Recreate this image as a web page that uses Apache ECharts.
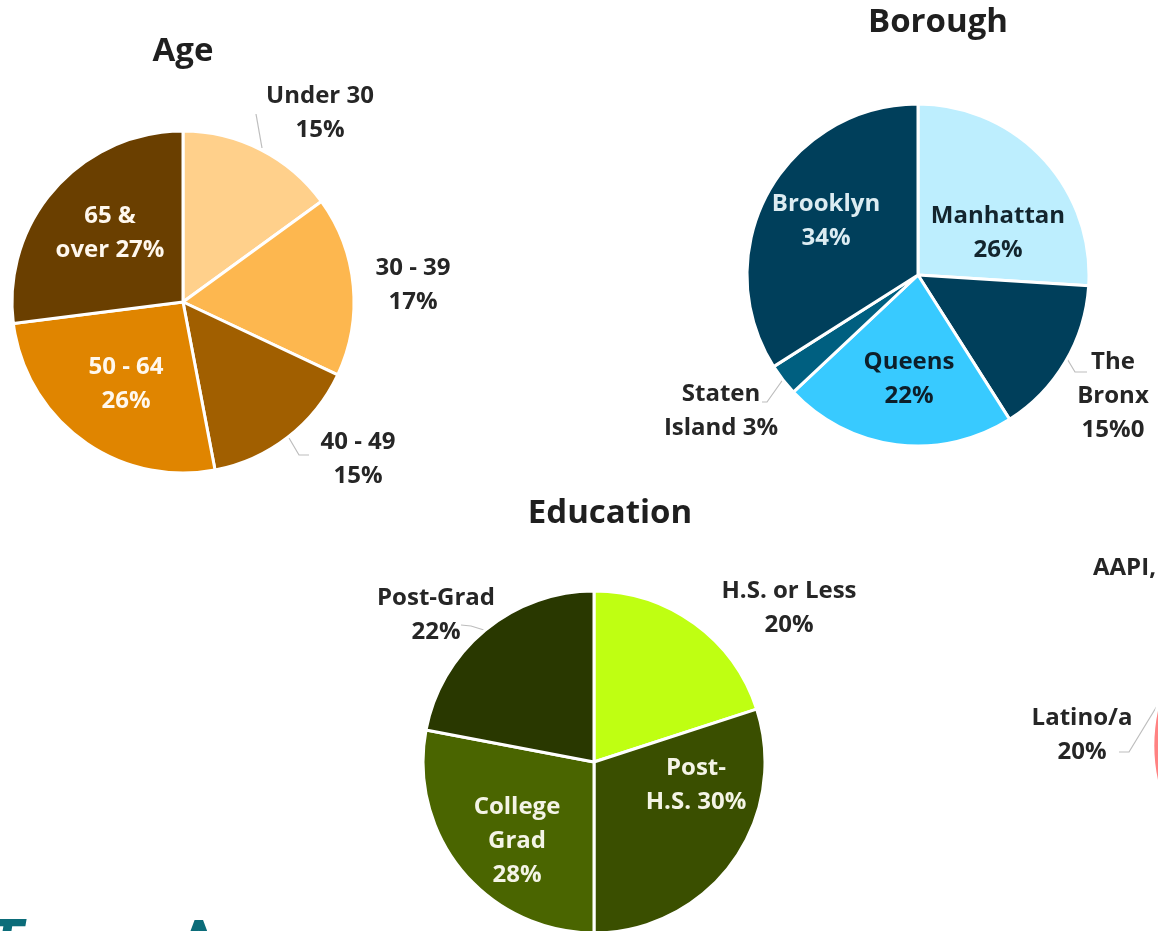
<!DOCTYPE html>
<html>
<head>
<meta charset="utf-8">
<script src="https://cdn.jsdelivr.net/npm/echarts@6/dist/echarts.min.js"></script>
<style>
  html, body { margin: 0; padding: 0; background: #ffffff; }
  #chart { width: 1158px; height: 931px; }
</style>
</head>
<body>
<div id="chart"></div>
<script>
// ---------------- DATA ----------------
const ageCategories = ['Under 30', '30 - 39', '40 - 49', '50 - 64', '65 & over'];
const ageValues = [15, 17, 15, 26, 27];
const ageLabels = ['Under 30\n15%', '30 - 39\n17%', '40 - 49\n15%', '50 - 64\n26%', '65 &\nover 27%'];

const boroughCategories = ['Manhattan', 'The Bronx', 'Queens', 'Staten Island', 'Brooklyn'];
const boroughValues = [26, 15, 22, 3, 34];
const boroughLabels = ['Manhattan\n26%', 'The\nBronx\n15%0', 'Queens\n22%', 'Staten\nIsland 3%', 'Brooklyn\n34%'];

const educationCategories = ['H.S. or Less', 'Post-H.S.', 'College Grad', 'Post-Grad'];
const educationValues = [20, 30, 28, 22];
const educationLabels = ['H.S. or Less\n20%', 'Post-\nH.S. 30%', 'College\nGrad\n28%', 'Post-Grad\n22%'];

// partially visible race chart (cut off at right edge)
const raceCategories = ['Latino/a', 'AAPI', 'Other', 'Black', 'White'];
const raceValues = [20, 8, 5, 25, 42];
const raceLabels = ['Latino/a\n20%', 'AAPI,', '', '', ''];

const titles = ['Age', 'Borough', 'Education'];

// ---------------- STYLE / LAYOUT ----------------
const ageColors = ['#FFD08B', '#FDB74F', '#A15F00', '#E08500', '#6A3F00'];
const boroughColors = ['#BDEEFE', '#003F5B', '#38CAFF', '#005F80', '#003F5B'];
const educationColors = ['#BFFF12', '#3A4F00', '#4A6500', '#293800'];
const raceColors = ['#FF8282', '#FFB3B3', '#FFD0D0', '#E05050', '#C03030'];

const FONT = 'Open Sans';
const DARK = '#262626';

// label positions (center of text block), inside/outside, text colour, leader line
const ageLayout = [
  { xy: [320, 113], pos: 'outside', color: DARK, line: [[262, 148], [256, 114], [256, 114]] },
  { xy: [413, 285], pos: 'outside', color: DARK, line: null },
  { xy: [358, 459], pos: 'outside', color: DARK, line: [[289, 438], [299, 455], [309, 455]] },
  { xy: [126, 384], pos: 'inside', color: '#FFF8EE' },
  { xy: [110, 233], pos: 'inside', color: '#FFF8EE' }
];
const boroughLayout = [
  { xy: [998, 233], pos: 'inside', color: '#13252e' },
  { xy: [1113, 396], pos: 'outside', color: DARK, line: [[1066, 357], [1075, 372], [1087, 372]] },
  { xy: [909, 379], pos: 'inside', color: '#0d1f2a' },
  { xy: [721, 411], pos: 'outside', color: DARK, line: [[784, 378], [767, 402], [762, 402]] },
  { xy: [826, 221], pos: 'inside', color: '#dcecf2' }
];
const educationLayout = [
  { xy: [789, 608], pos: 'outside', color: DARK, line: null },
  { xy: [696, 785], pos: 'inside', color: '#F4F4E6' },
  { xy: [517, 841], pos: 'inside', color: '#F4F4E6' },
  { xy: [436, 615], pos: 'outside', color: DARK, line: [[484, 630], [471, 626], [461, 625]] }
];
const raceLayout = [
  { xy: [1082, 735], pos: 'outside', color: DARK, line: [[1157, 706], [1129, 752], [1119, 752]] },
  { xy: [1093, 568], pos: 'outside', color: DARK, line: null, align: 'left' },
  null, null, null
];

function buildSeries(name, cats, vals, labels, colors, layout, center, startAngle) {
  return {
    name: name,
    type: 'pie',
    radius: 171,
    center: center,
    startAngle: startAngle,
    clockwise: true,
    avoidLabelOverlap: false,
    silent: true,
    animation: false,
    itemStyle: { borderColor: '#ffffff', borderWidth: 3 },
    label: {
      fontFamily: FONT, fontWeight: 'bold', fontSize: 24, lineHeight: 34, align: 'center'
    },
    labelLine: { show: true, length: 10, length2: 10, lineStyle: { color: '#BDBDBD', width: 1.2 } },
    data: cats.map(function (c, i) {
      const L = layout[i];
      return {
        name: c,
        value: vals[i],
        itemStyle: { color: colors[i] },
        label: L ? {
          show: true,
          position: L.pos,
          formatter: labels[i],
          color: L.color,
          align: L.align || 'center'
        } : { show: false },
        labelLine: { show: !!(L && L.line) }
      };
    }),
    labelLayout: function (params) {
      const L = layout[params.dataIndex];
      if (!L) return {};
      const out = {
        x: L.xy[0], y: L.xy[1],
        align: L.align || 'center',
        verticalAlign: 'middle',
        moveOverlap: null,
        hideOverlap: false
      };
      if (L.line) out.labelLinePoints = L.line;
      return out;
    }
  };
}

const chart = echarts.init(document.getElementById('chart'), null, { renderer: 'canvas' });

const titleStyle = { fontFamily: FONT, fontWeight: 'bold', fontSize: 33, color: '#1f1f1f' };

const option = {
  backgroundColor: '#ffffff',
  animation: false,
  title: [
    { text: titles[0], left: 183, top: 35, textAlign: 'center', padding: 0, textStyle: titleStyle },
    { text: titles[1], left: 938, top: 6, textAlign: 'center', padding: 0, textStyle: titleStyle },
    { text: titles[2], left: 610, top: 497, textAlign: 'center', padding: 0, textStyle: titleStyle }
  ],
  graphic: [
    { type: 'text', left: -14, top: 917, style: { text: 'T', fill: '#0B6C79', font: 'italic bold 62px Roboto' } },
    { type: 'text', left: 178, top: 917, style: { text: 'A', fill: '#0B6C79', font: 'bold 62px Roboto' } }
  ],
  series: [
    buildSeries('Age', ageCategories, ageValues, ageLabels, ageColors, ageLayout, [183, 302], 90),
    buildSeries('Borough', boroughCategories, boroughValues, boroughLabels, boroughColors, boroughLayout, [918, 275], 90),
    buildSeries('Education', educationCategories, educationValues, educationLabels, educationColors, educationLayout, [594, 762], 90),
    buildSeries('Race', raceCategories, raceValues, raceLabels, raceColors, raceLayout, [1324, 745], 203)
  ]
};

chart.setOption(option);
</script>
</body>
</html>
